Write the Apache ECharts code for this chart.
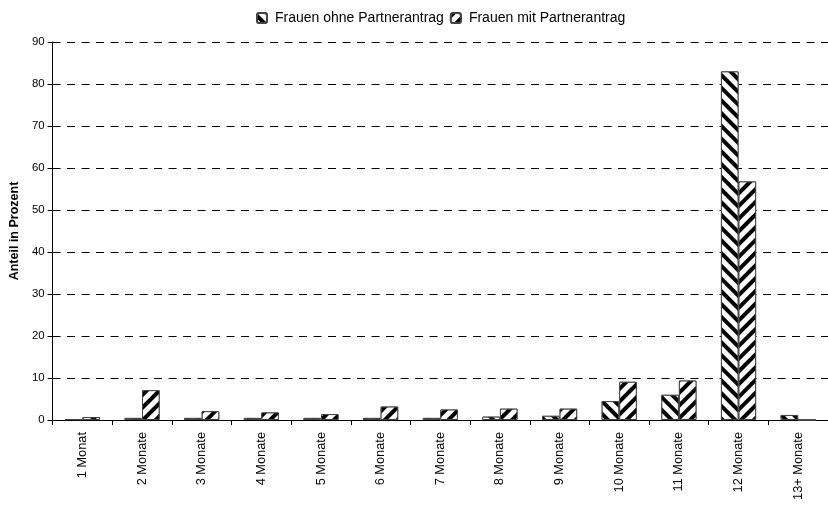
<!DOCTYPE html>
<html>
<head>
<meta charset="utf-8">
<script src="https://cdn.jsdelivr.net/npm/echarts@6/dist/echarts.min.js"></script>
<style>html,body{margin:0;padding:0;background:#fff}#c{width:828px;height:508px}</style>
</head>
<body>
<div id="c"></div>
<script>
const categories = ['1 Monat','2 Monate','3 Monate','4 Monate','5 Monate','6 Monate','7 Monate','8 Monate','9 Monate','10 Monate','11 Monate','12 Monate','13+ Monate'];
const ohnePartner = [0.2, 0.5, 0.5, 0.5, 0.5, 0.5, 0.5, 0.8, 1.0, 4.5, 6.0, 83.0, 1.2];
const mitPartner = [0.7, 7.1, 2.1, 1.8, 1.4, 3.2, 2.5, 2.7, 2.7, 9.1, 9.4, 56.8, 0];
const seriesNames = ['Frauen ohne Partnerantrag', 'Frauen mit Partnerantrag'];
const yTicks = {min: 0, max: 90, interval: 10};

const font = 'Liberation Sans, Arial, sans-serif';
const chart = echarts.init(document.getElementById('c'), null, {renderer: 'canvas'});
function decal(rot) {
  return {symbol: 'rect', symbolSize: 1, dashArrayX: [1, 0], dashArrayY: [4, 5], rotation: rot, color: '#000', backgroundColor: '#fff'};
}
chart.setOption({
  animation: false,
  backgroundColor: '#fff',
  textStyle: {fontFamily: font},
  legend: {
    top: 6, left: 251, itemWidth: 10, itemHeight: 10, itemGap: 6,
    textStyle: {fontSize: 14, color: '#000', fontFamily: font, padding: [0, 0, 0, 3]},
    data: seriesNames
  },
  grid: {left: 45, right: -9, top: 42, bottom: 88, containLabel: false},
  xAxis: {
    type: 'category', data: categories, boundaryGap: true,
    axisLine: {lineStyle: {color: '#000', width: 1}},
    axisTick: {show: true, length: 5, alignWithLabel: false, lineStyle: {color: '#000'}},
    axisLabel: {rotate: 90, interval: 0, fontSize: 12.8, color: '#000', margin: 12, fontFamily: font},
    splitLine: {show: false}
  },
  yAxis: {
    type: 'value', min: yTicks.min, max: yTicks.max, interval: yTicks.interval,
    name: 'Anteil in Prozent', nameLocation: 'middle', nameGap: 24,
    nameTextStyle: {fontSize: 12.5, fontWeight: 'bold', color: '#000', fontFamily: font},
    axisLine: {show: true, lineStyle: {color: '#000', width: 1}},
    axisTick: {show: true, length: 5, inside: false, lineStyle: {color: '#000'}},
    axisLabel: {fontSize: 11.4, color: '#000', margin: 8, fontFamily: font},
    splitLine: {show: true, lineStyle: {color: '#000', type: [8, 6.5], width: 1}}
  },
  series: [
    {
      name: seriesNames[0], type: 'bar', data: ohnePartner, barGap: '0%', barCategoryGap: '41%',
      itemStyle: {color: '#fff', borderColor: '#444', borderWidth: 1, decal: decal(Math.PI / 4)}
    },
    {
      name: seriesNames[1], type: 'bar', data: mitPartner, barGap: '0%', barCategoryGap: '41%',
      itemStyle: {color: '#fff', borderColor: '#444', borderWidth: 1, decal: decal(-Math.PI / 4)}
    }
  ]
});
</script>
</body>
</html>
